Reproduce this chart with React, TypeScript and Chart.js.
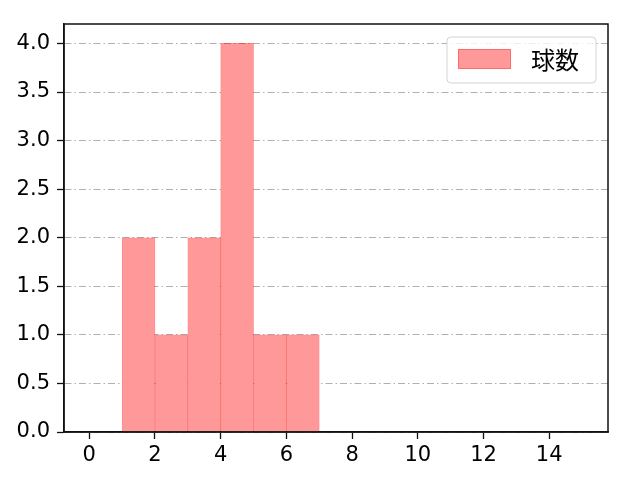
import { Chart, registerables } from 'chart.js';
import { useEffect, useRef } from 'react';

Chart.register(...registerables);

const binStarts = [1, 2, 3, 4, 5, 6];
const counts = [2, 1, 2, 4, 1, 1];
const seriesLabel = '球数';
const xTicks = [0, 2, 4, 6, 8, 10, 12, 14];
const yTicks = [0, 0.5, 1, 1.5, 2, 2.5, 3, 3.5, 4];

const TICK_FONT = "'DejaVu Sans', sans-serif";
const LEGEND_FONT = "'Noto Sans CJK JP', sans-serif";

const framePlugin = {
    id: 'frame',
    afterDatasetsDraw(chart: Chart) {
        const { ctx, chartArea } = chart;
        ctx.save();
        ctx.strokeStyle = '#111';
        ctx.lineWidth = 1.5;
        ctx.strokeRect(chartArea.left, chartArea.top, chartArea.right - chartArea.left, chartArea.bottom - chartArea.top);
        ctx.restore();
    },
};

const legendPlugin = {
    id: 'boxLegend',
    afterDraw(chart: Chart) {
        const { ctx, chartArea } = chart;
        const w = 149;
        const h = 46;
        const x = chartArea.right - 12 - w;
        const y = chartArea.top + 13;
        ctx.save();
        ctx.beginPath();
        ctx.roundRect(x, y, w, h, 4);
        ctx.fillStyle = 'rgba(255,255,255,0.8)';
        ctx.fill();
        ctx.strokeStyle = '#d4d4d4';
        ctx.lineWidth = 1;
        ctx.stroke();
        ctx.fillStyle = '#ff9999';
        ctx.fillRect(x + 11, y + 12, 53, 20);
        ctx.strokeStyle = 'rgba(255,0,0,0.3)';
        ctx.strokeRect(x + 11.5, y + 12.5, 52, 19);
        ctx.fillStyle = '#000';
        ctx.font = `24px ${LEGEND_FONT}`;
        ctx.textBaseline = 'middle';
        ctx.fillText(chart.data.datasets[0].label || '', x + 84, y + 23);
        ctx.restore();
    },
};

const App = () => {
    const chartRef = useRef<HTMLCanvasElement | null>(null);
    const chartInstance = useRef<Chart | null>(null);

    useEffect(() => {
        document.body.style.margin = '0';
        if (!chartRef.current) return;
        const ctx = chartRef.current.getContext('2d');
        if (!ctx) return;
        if (chartInstance.current) chartInstance.current.destroy();

        chartInstance.current = new Chart(ctx, {
            type: 'bar',
            data: {
                datasets: [
                    {
                        label: seriesLabel,
                        data: binStarts.map((s, i) => ({ x: s + 0.5, y: counts[i] })),
                        backgroundColor: '#ff9999',
                        borderColor: 'rgba(255,0,0,0.45)',
                        borderWidth: 1,
                        barPercentage: 1,
                        categoryPercentage: 1,
                    },
                ],
            },
            options: {
                responsive: false,
                animation: false,
                layout: { padding: { top: 24, right: 32, left: 0, bottom: 0 } },
                plugins: {
                    legend: { display: false },
                    tooltip: { enabled: false },
                },
                scales: {
                    x: {
                        type: 'linear',
                        offset: false,
                        min: -0.77,
                        max: 15.79,
                        afterBuildTicks: (scale) => {
                            scale.ticks = xTicks.map((v) => ({ value: v }));
                        },
                        afterFit: (scale) => {
                            scale.height = 48;
                        },
                        grid: { offset: false, drawOnChartArea: false, tickColor: '#111', tickLength: 7, tickWidth: 1.3 },
                        border: { color: '#111', width: 1.5 },
                        ticks: {
                            color: '#000',
                            font: { family: TICK_FONT, size: 21 },
                            padding: 4,
                            maxRotation: 0,
                        },
                    },
                    y: {
                        min: 0,
                        max: 4.2,
                        afterBuildTicks: (scale) => {
                            scale.ticks = yTicks.map((v) => ({ value: v }));
                        },
                        afterFit: (scale) => {
                            scale.width = 64;
                        },
                        grid: { color: '#b0b0b0', lineWidth: 1, tickColor: '#111', tickLength: 7, tickWidth: 1.3 },
                        border: { color: '#111', width: 1.5, dash: [7, 3, 1.5, 3] },
                        ticks: {
                            color: '#000',
                            font: { family: TICK_FONT, size: 21 },
                            padding: 7,
                            callback: (v) => Number(v).toFixed(1),
                        },
                    },
                },
            },
            plugins: [framePlugin, legendPlugin],
        });

        return () => {
            if (chartInstance.current) {
                chartInstance.current.destroy();
                chartInstance.current = null;
            }
        };
    }, []);

    return <canvas ref={chartRef} width={640} height={480} style={{ display: 'block' }} />;
};

export default App;
